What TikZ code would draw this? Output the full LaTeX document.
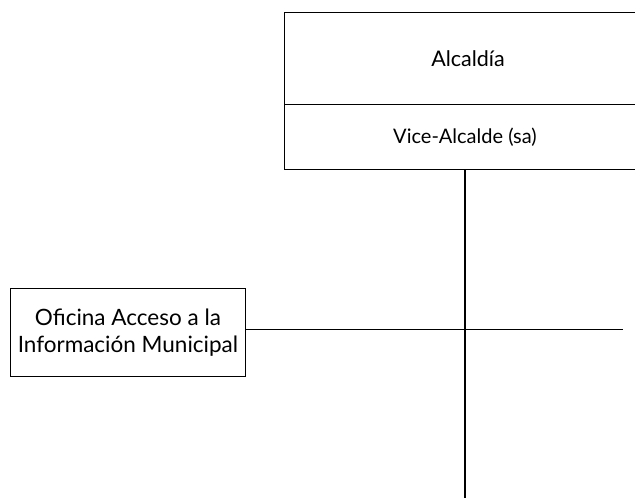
\documentclass[tikz,border=0pt]{standalone}
\usepackage{fontspec}
\setmainfont{Lato}
\begin{document}
\begin{tikzpicture}[x=1pt,y=-1pt,
  box/.style={draw=black,line width=0.9pt,inner sep=0pt},
  conn/.style={draw=black,line width=0.9pt}]
\useasboundingbox (0,0) rectangle (635,498);
\clip (0,0) rectangle (635,498);
\node[box,minimum width=362pt,minimum height=92pt,anchor=north west] (alc) at (284,12) {};
\node[box,minimum width=362pt,minimum height=65pt,anchor=north west] (vice) at (284,104) {};
\node[font=\fontsize{21.5}{24}\selectfont] (alct) at (468,59) {Alcaldía};
\node[font=\fontsize{20}{22}\selectfont] (vicet) at (465,137) {Vice-Alcalde (sa)};
\node[box,minimum width=235pt,minimum height=88pt,anchor=north west,align=center,font=\fontsize{22.5}{27}\selectfont] (ofi) at (10,288) {Oficina Acceso a la\\Información Municipal};
\coordinate (vb) at (465,498);
\coordinate (hr) at (623,329);
\draw[line width=1.8pt] (465,169) -- (vb);
\draw[conn] (ofi.east |- 0,329) -- (hr);
\end{tikzpicture}
\end{document}
